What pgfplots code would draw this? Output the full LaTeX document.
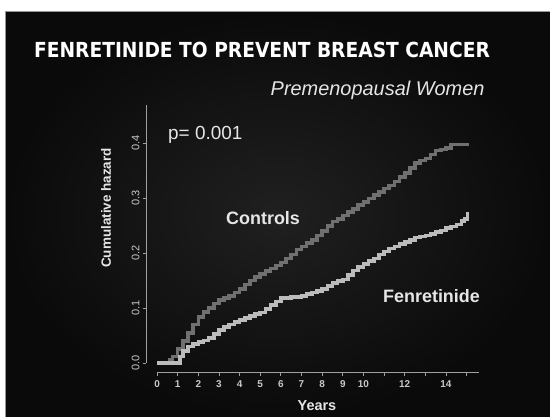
\documentclass[border=0pt]{standalone}
\usepackage{pgfplots}
\pgfplotsset{compat=1.18}
\usepackage{fontspec}
\setmainfont{Liberation Sans}
\newfontfamily\titlefont{DejaVu Sans Condensed}
\definecolor{ctrl}{RGB}{112,112,112}
\definecolor{fen}{RGB}{188,188,188}
\definecolor{axgray}{RGB}{160,160,160}
\definecolor{ticktxt}{RGB}{200,200,200}
\definecolor{txt}{RGB}{230,230,230}
\pgfplotstableread{
t h
0 0
0.5 0
0.6 0.005
0.75 0.012
1.0 0.025
1.25 0.04
1.5 0.055
1.75 0.07
2.0 0.084
2.25 0.093
2.5 0.100
2.75 0.108
3.0 0.114
3.25 0.118
3.5 0.122
3.75 0.128
4.0 0.135
4.25 0.143
4.5 0.150
4.75 0.156
5.0 0.162
5.25 0.167
5.5 0.172
5.75 0.177
6.0 0.183
6.25 0.190
6.5 0.197
6.75 0.206
7.0 0.212
7.25 0.218
7.5 0.224
7.75 0.232
8.0 0.240
8.25 0.249
8.5 0.257
8.75 0.262
9.0 0.268
9.25 0.274
9.5 0.280
9.75 0.287
10.0 0.293
10.25 0.299
10.5 0.305
10.75 0.311
11.0 0.317
11.25 0.323
11.5 0.330
11.75 0.338
12.0 0.345
12.25 0.355
12.5 0.364
12.75 0.368
13.0 0.372
13.25 0.379
13.5 0.386
13.75 0.388
14.0 0.391
14.25 0.397
15.1 0.397
}\controls
\pgfplotstableread{
t h
0 0
1.0 0
1.1 0.012
1.25 0.022
1.5 0.030
1.75 0.034
2.0 0.038
2.25 0.041
2.5 0.045
2.75 0.053
3.0 0.060
3.25 0.065
3.5 0.070
3.75 0.074
4.0 0.078
4.25 0.082
4.5 0.085
4.75 0.089
5.0 0.092
5.25 0.098
5.5 0.105
5.75 0.112
6.0 0.118
6.5 0.120
7.0 0.122
7.25 0.125
7.5 0.128
7.75 0.131
8.0 0.135
8.25 0.140
8.5 0.145
8.75 0.149
9.0 0.152
9.25 0.160
9.5 0.168
9.75 0.174
10.0 0.180
10.25 0.185
10.5 0.190
10.75 0.197
11.0 0.203
11.25 0.208
11.5 0.212
11.75 0.216
12.0 0.220
12.25 0.224
12.5 0.228
12.75 0.230
13.0 0.232
13.25 0.235
13.5 0.238
13.75 0.241
14.0 0.245
14.25 0.248
14.5 0.252
14.75 0.258
14.9 0.262
15.05 0.275
}\fenret
\begin{document}
\begin{tikzpicture}
\fill[white] (0bp,0bp) rectangle (550bp,417bp);
\shade[inner color={rgb,255:red,32;green,32;blue,32}, outer color={rgb,255:red,10;green,10;blue,10}] (5bp,0bp) rectangle (550bp,405bp);
\draw[color={rgb,255:red,150;green,150;blue,150}, line width=1bp] (5.5bp,0bp) -- (5.5bp,405.5bp) -- (550bp,405.5bp);
\begin{axis}[
  at={(146bp,44bp)}, anchor=south west,
  scale only axis, width=333bp, height=268bp,
  xmin=-0.535, xmax=15.6, ymin=-0.01818, ymax=0.469,
  axis lines=left, axis line style={draw=none},
  clip=false,
  xtick={0,...,15},
  xticklabels={0,1,2,3,4,5,6,7,8,9,10,,12,,14,},
  ytick={0,0.1,0.2,0.3,0.4},
  yticklabels={0.0,0.1,0.2,0.3,0.4},
  tick align=outside, major tick length=3bp,
  tick style={axgray, line width=0.8bp},
  x tick label style={font=\fontsize{10}{12}\selectfont\bfseries, text=ticktxt, yshift=-1bp},
  y tick label style={font=\fontsize{11}{13}\selectfont, text=ticktxt, rotate=90, anchor=south},
  /pgf/number format/assume math mode=true,
]
\draw[axgray, line width=1bp] (axis cs:0,-0.01818) -- (axis cs:15.6,-0.01818);
\draw[axgray, line width=1bp] (axis cs:-0.535,0) -- (axis cs:-0.535,0.469);
\addplot[const plot, ctrl, line width=3.6bp, line join=miter] table[x=t,y=h] {\controls};
\addplot[const plot, fen, line width=3.6bp, line join=miter] table[x=t,y=h] {\fenret};
\end{axis}
\node[text=white, font=\titlefont\fontsize{20.8}{24}\selectfont\bfseries] at (262bp,367bp) {FENRETINIDE TO PREVENT BREAST CANCER};
\node[text=txt, anchor=east, font=\fontsize{20}{24}\selectfont\itshape] at (488bp,327bp) {Premenopausal Women};
\node[text=txt, anchor=west, font=\fontsize{19}{22}\selectfont, inner sep=0pt] at (168bp,282bp) {p= 0.001};
\node[text=txt, anchor=west, font=\fontsize{18}{22}\selectfont\bfseries, inner sep=0pt] at (226bp,199bp) {Controls};
\node[text=txt, anchor=west, font=\fontsize{18}{22}\selectfont\bfseries, inner sep=0pt] at (383bp,121bp) {Fenretinide};
\node[text=txt, rotate=90, font=\fontsize{13.5}{16}\selectfont\bfseries] at (106bp,209bp) {Cumulative hazard};
\node[text=txt, font=\fontsize{14.5}{17}\selectfont\bfseries] at (317bp,11bp) {Years};
\pgfresetboundingbox
\useasboundingbox (0bp,0bp) rectangle (550bp,417bp);
\end{tikzpicture}
\end{document}
